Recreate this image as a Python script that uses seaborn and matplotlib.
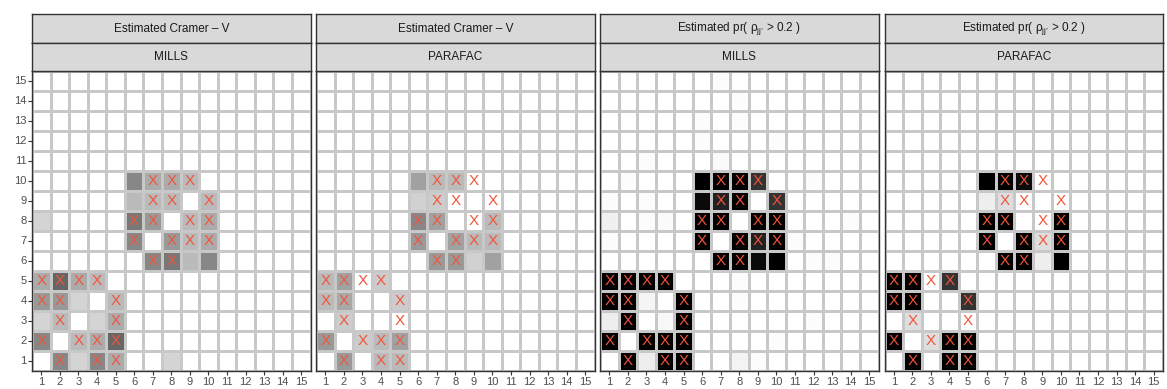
"""
Heatmaps of estimated dependence (Cramer-V and pr(rho > 0.2)) for MILLS and PARAFAC.
Red X marks the truly dependent pairs.
"""

import numpy as np
import pandas as pd
import matplotlib
matplotlib.use("Agg")
import matplotlib.pyplot as plt
from matplotlib.colors import LinearSegmentedColormap
import seaborn as sns

N = 15
rows = list(range(N, 0, -1))     # 15 at the top
cols = list(range(1, N + 1))

# 10x10 lower-left block, rows listed from 10 down to 1, columns 1..10
cramer_mills = [
    [0, 0, 0, 0, 0, .47, .33, .33, .27, 0],
    [0, 0, 0, 0, 0, .27, .27, .27, 0, .27],
    [.17, 0, 0, 0, 0, .53, .40, 0, .27, .33],
    [0, 0, 0, 0, 0, .47, 0, .40, .27, .33],
    [0, 0, 0, 0, 0, 0, .47, .53, .27, .47],
    [.33, .60, .33, .27, 0, 0, 0, 0, 0, 0],
    [.40, .40, .17, 0, .27, 0, 0, 0, 0, 0],
    [.17, .27, 0, .17, .33, 0, 0, 0, 0, 0],
    [.47, 0, .27, .33, .60, 0, 0, 0, 0, 0],
    [0, .47, .17, .47, .33, 0, 0, .17, 0, 0],
]
cramer_parafac = [
    [0, 0, 0, 0, 0, .37, .27, .27, 0, 0],
    [0, 0, 0, 0, 0, .18, .20, 0, 0, 0],
    [0, 0, 0, 0, 0, .47, .37, 0, 0, .27],
    [0, 0, 0, 0, 0, .40, 0, .37, .27, .27],
    [0, 0, 0, 0, 0, 0, .40, .40, .18, .37],
    [.27, .37, 0, .20, 0, 0, 0, 0, 0, 0],
    [.27, .34, 0, 0, .20, 0, 0, 0, 0, 0],
    [0, .20, 0, 0, 0, 0, 0, 0, 0, 0],
    [.40, 0, .20, .27, .37, 0, 0, 0, 0, 0],
    [0, .40, 0, .27, .27, 0, 0, 0, 0, 0],
]
prob_mills = [
    [0, .015, 0, 0, 0, 1, 1, 1, .80, 0],
    [.015, 0, .015, 0, 0, .96, .87, 1, 0, .80],
    [.06, 0, .015, .02, 0, 1, 1, 0, 1, 1],
    [.015, 0, 0, 0, 0, 1, 0, 1, .87, 1],
    [0, 0, 0, 0, 0, 0, 1, 1, .96, 1],
    [1, 1, 1, 1, 0, 0, 0, .015, 0, 0],
    [1, 1, .04, 0, 1, 0, 0, .015, 0, 0],
    [.07, 1, 0, .03, 1, 0, 0, 0, 0, 0],
    [1, 0, 1, 1, 1, 0, 0, 0, 0, .015],
    [0, 1, .07, 1, 1, 0, 0, .05, .015, 0],
]
prob_parafac = [
    [0, 0, 0, 0, 0, 1, 1, .95, 0, 0],
    [0, 0, 0, 0, 0, .07, .13, 0, 0, 0],
    [0, 0, 0, 0, 0, 1, 1, 0, 0, 1],
    [0, 0, 0, 0, 0, 1, 0, 1, .13, 1],
    [0, 0, 0, 0, 0, 0, 1, 1, .07, 1],
    [1, 1, 0, .80, 0, 0, 0, 0, 0, 0],
    [1, 1, 0, 0, .80, 0, 0, 0, 0, 0],
    [0, .13, 0, 0, 0, 0, 0, 0, 0, 0],
    [1, 0, .13, 1, 1, 0, 0, 0, 0, 0],
    [0, 1, 0, 1, 1, 0, 0, 0, 0, 0],
]
# faint values outside the block (pr MILLS): (row, col, value)
prob_mills_faint = [(15, 7, .015), (14, 8, .015), (13, 6, .015), (13, 8, .015),
                    (12, 6, .015), (12, 10, .015), (11, 3, .015), (11, 7, .02),
                    (10, 12, .015), (8, 14, .015), (7, 11, .015), (6, 12, .015),
                    (6, 13, .015), (3, 12, .015)]

# true dependent pairs (row, col)
truth = [(10, 7), (10, 8), (10, 9), (9, 7), (9, 8), (9, 10),
         (8, 6), (8, 7), (8, 9), (8, 10), (7, 6), (7, 8), (7, 9), (7, 10),
         (6, 7), (6, 8), (5, 1), (5, 2), (5, 3), (5, 4), (4, 1), (4, 2), (4, 5),
         (3, 2), (3, 5), (2, 1), (2, 3), (2, 4), (2, 5), (1, 2), (1, 4), (1, 5)]

strip_top = ["Estimated Cramer \u2013 V", "Estimated Cramer \u2013 V",
             "Estimated pr( \u03c1$_{\\mathrm{jj\u2019}}$ > 0.2 )",
             "Estimated pr( \u03c1$_{\\mathrm{jj\u2019}}$ > 0.2 )"]
strip_bottom = ["MILLS", "PARAFAC", "MILLS", "PARAFAC"]


def full_matrix(block, extra=()):
    m = np.zeros((N, N))
    for i, r in enumerate(range(10, 0, -1)):
        for j in range(10):
            m[N - r, j] = block[i][j]
    for r, c, v in extra:
        m[N - r, c - 1] = v
    return pd.DataFrame(m, index=rows, columns=cols)


def main():
    sns.set_theme(style="white")
    plt.rcParams["font.family"] = ["Liberation Sans", "DejaVu Sans"]
    plt.rcParams["mathtext.fontset"] = "custom"
    plt.rcParams["mathtext.rm"] = "Liberation Sans"

    mats = [full_matrix(cramer_mills), full_matrix(cramer_parafac),
            full_matrix(prob_mills, prob_mills_faint), full_matrix(prob_parafac)]
    cmap = LinearSegmentedColormap.from_list("wb", ["#ffffff", "#000000"])

    W, H = 1167, 389
    fig = plt.figure(figsize=(W / 100, H / 100), dpi=100)

    def box(l, t, w, h):
        return [l / W, 1 - (t + h) / H, w / W, h / H]

    lefts = [32, 316, 600, 884.5]
    pw = 278.5
    for k in range(4):
        ax = fig.add_axes(box(lefts[k], 71, pw, 300))
        sns.heatmap(mats[k], ax=ax, cmap=cmap, vmin=0, vmax=1, cbar=False,
                    linewidths=0.8, linecolor="#c8c8c8")
        for r, c in truth:
            ax.text(c - 0.5, N - r + 0.5, "X", ha="center", va="center",
                    fontsize=11, color="#F4533A")
        for s in ax.spines.values():
            s.set_visible(True)
            s.set_color("#333333")
            s.set_linewidth(1.0)
        ax.set_xlabel("")
        ax.set_ylabel("")
        ax.tick_params(axis="x", bottom=True, length=3, width=0.8, color="#333333",
                       labelsize=8, labelcolor="#4d4d4d", pad=1, rotation=0)
        if k == 0:
            ax.tick_params(axis="y", left=True, length=3, width=0.8, color="#333333",
                           labelsize=8, labelcolor="#4d4d4d", pad=1, rotation=0)
        else:
            ax.tick_params(axis="y", left=False, labelleft=False)

        # facet strips
        for t, h, label in [(14, 29, strip_top[k]), (43, 28, strip_bottom[k])]:
            sax = fig.add_axes(box(lefts[k], t, pw, h))
            sax.set_facecolor("#d9d9d9")
            sax.set_xticks([])
            sax.set_yticks([])
            for s in sax.spines.values():
                s.set_color("#333333")
                s.set_linewidth(1.0)
            sax.text(0.5, 0.5, label, ha="center", va="center", fontsize=8.5,
                     color="#1a1a1a", transform=sax.transAxes)

    plt.savefig("out.png", dpi=100)
    plt.close()
    return 0


if __name__ == "__main__":
    import sys
    sys.exit(main())
